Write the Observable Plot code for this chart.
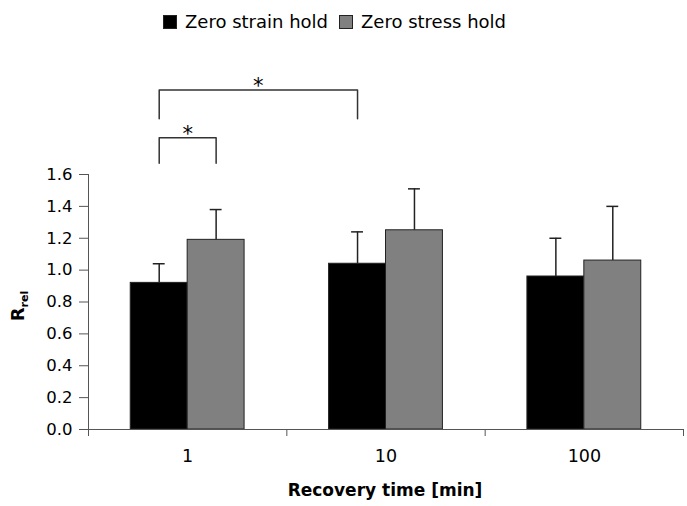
<!DOCTYPE html>
<html><head><meta charset="utf-8">
<script src="https://cdn.jsdelivr.net/npm/d3@7"></script>
<script src="https://cdn.jsdelivr.net/npm/@observablehq/plot@0.6"></script>
<style>
body{margin:0;background:#fff;font-family:"DejaVu Sans",Verdana,sans-serif;}
#legend{position:relative;height:40px;}
#legend .items{position:absolute;left:163px;top:11px;display:flex;align-items:center;font-size:18px;color:#000;white-space:nowrap;}
#legend .sw{display:inline-block;width:12px;height:12px;border:1px solid #222;margin-right:8px;}
#legend .item{display:flex;align-items:center;margin-right:11px;}
</style></head>
<body>
<div id="legend"><div class="items"></div></div>
<div id="chart"></div>
<script>
const categories = ["1", "10", "100"];
const series = ["Zero strain hold", "Zero stress hold"];
const strainMean = [0.92, 1.04, 0.96];
const strainSD = [0.12, 0.20, 0.24];
const stressMean = [1.19, 1.25, 1.06];
const stressSD = [0.19, 0.26, 0.34];
const colors = ["#000000", "#808080"];
const yTicks = [0, 0.2, 0.4, 0.6, 0.8, 1.0, 1.2, 1.4, 1.6];
// significance brackets: [category, series] endpoints, bottom/top heights
const brackets = [
  {from: [0, 0], to: [0, 1], low: 1.67, high: 1.83},
  {from: [0, 0], to: [1, 0], low: 1.95, high: 2.13}
];

const barW = 0.287;
const center = (ci, si) => ci + 0.5 + (si === 0 ? -barW / 2 : barW / 2);

const bars = [];
categories.forEach((c, i) => {
  bars.push({cat: i, s: 0, mean: strainMean[i], sd: strainSD[i]});
  bars.push({cat: i, s: 1, mean: stressMean[i], sd: stressSD[i]});
});

const bracketPts = [];
brackets.forEach((b, k) => {
  const xa = center(...b.from), xb = center(...b.to);
  bracketPts.push({k, x: xa, y: b.low}, {k, x: xa, y: b.high}, {k, x: xb, y: b.high}, {k, x: xb, y: b.low});
});
const stars = brackets.map(b => ({x: (center(...b.from) + center(...b.to)) / 2, y: b.high}));

// legend
const items = d3.select("#legend .items");
series.forEach((s, i) => {
  const it = items.append("div").attr("class", "item");
  it.append("span").attr("class", "sw").style("background", colors[i]);
  it.append("span").text(s);
});

const chart = Plot.plot({
  width: 687,
  height: 466,
  marginLeft: 88,
  marginRight: 4,
  marginTop: 134,
  marginBottom: 77,
  style: {fontSize: "16.5px", fontFamily: "DejaVu Sans, Verdana, sans-serif", color: "#000", background: "#fff"},
  x: {domain: [0, 3], axis: null},
  y: {domain: [0, 1.6], axis: null},
  marks: [
    Plot.rectY(bars, {
      x1: d => d.cat + 0.5 + (d.s === 0 ? -barW : 0),
      x2: d => d.cat + 0.5 + (d.s === 0 ? 0 : barW),
      y1: 0, y2: "mean",
      fill: d => colors[d.s], stroke: "#222", strokeWidth: 1
    }),
    Plot.ruleX(bars, {x: d => center(d.cat, d.s), y1: "mean", y2: d => d.mean + d.sd, stroke: "#222", strokeWidth: 1.5}),
    Plot.ruleY(bars, {y: d => d.mean + d.sd, x1: d => center(d.cat, d.s) - 0.03, x2: d => center(d.cat, d.s) + 0.03, stroke: "#222", strokeWidth: 1.5}),
    Plot.line(bracketPts, {x: "x", y: "y", z: "k", stroke: "#333", strokeWidth: 1.5}),
    Plot.text(stars, {x: "x", y: "y", text: () => "*", dy: -4, fontSize: 21}),
    Plot.axisY({ticks: yTicks, tickFormat: d3.format(".1f"), tickSize: 9, tickPadding: 7, stroke: "#555", label: null}),
    Plot.ruleX([0], {y1: 0, y2: 1.6, stroke: "#555"}),
    Plot.ruleY([0], {x1: 0, x2: 3, stroke: "#555"}),
    Plot.axisX({ticks: [0, 1, 2, 3], tickFormat: () => "", tickSize: 7, stroke: "#555", label: null}),
    Plot.axisX({ticks: categories.map((c, i) => i + 0.5), tickFormat: v => categories[Math.floor(v)], tickSize: 0, tickPadding: 20, fontSize: 17.5, label: null})
  ]
});
document.getElementById("chart").appendChild(chart);

const svg = d3.select(chart);
svg.append("text")
  .attr("x", 385).attr("y", 456)
  .attr("text-anchor", "middle")
  .attr("font-weight", "bold").attr("font-size", 17)
  .attr("fill", "#000")
  .text("Recovery time [min]");
const yl = svg.append("text")
  .attr("transform", "translate(24,266) rotate(-90)")
  .attr("text-anchor", "middle")
  .attr("font-weight", "bold").attr("fill", "#000");
yl.append("tspan").attr("font-size", 18).text("R");
yl.append("tspan").attr("font-size", 11).attr("dy", 4).text("rel");
</script>
</body></html>
